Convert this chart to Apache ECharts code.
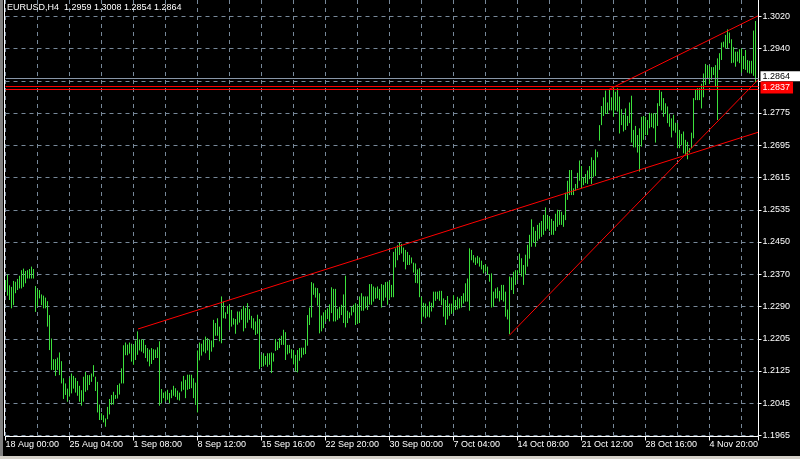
<!DOCTYPE html>
<html><head><meta charset="utf-8">
<script src="https://cdn.jsdelivr.net/npm/echarts@6/dist/echarts.min.js"></script>
<style>
html,body{margin:0;padding:0;background:#d4d0c8;overflow:hidden;}
#wrap{position:absolute;left:0;top:0;width:800px;height:459px;overflow:hidden;background:#000;}
#chart{position:absolute;left:0;top:-16px;width:800px;height:475px;}
#bstrip{position:absolute;left:0;top:456px;width:800px;height:3px;background:#d4d0c8;}
#lstrip{position:absolute;left:0;top:0;width:3px;height:456px;background:#808080;}
</style></head><body>
<div id="wrap"><div id="chart"></div></div><div id="lstrip"></div><div id="bstrip"></div>
<script>
const titleText = 'EURUSD,H4  1.2959 1.3008 1.2854 1.2864';
const timeLabels = ['18 Aug 00:00','25 Aug 04:00','1 Sep 08:00','8 Sep 12:00','15 Sep 16:00','22 Sep 20:00','30 Sep 00:00','7 Oct 04:00','14 Oct 08:00','21 Oct 12:00','28 Oct 16:00','4 Nov 20:00'];
const priceLabels = ['1.1965','1.2045','1.2125','1.2205','1.2290','1.2370','1.2450','1.2535','1.2615','1.2695','1.2775','','1.2940','1.3020'];
const yMin = 1.1965;
const yStep = 0.1055 / 13;

const highs = [
1.2356,1.2370,1.2343,1.2339,1.2354,1.2352,1.2359,1.2367,1.2381,1.2385,
1.2379,1.2381,1.2384,1.2390,1.2384,1.2341,1.2333,1.2331,1.2320,1.2317,
1.2312,1.2303,1.2268,1.2209,1.2157,1.2157,1.2161,1.2174,1.2152,1.2109,
1.2096,1.2083,1.2110,1.2121,1.2115,1.2110,1.2102,1.2090,1.2079,1.2113,
1.2125,1.2117,1.2117,1.2121,1.2142,1.2113,1.2100,1.2043,1.2021,1.2016,
1.2008,1.2037,1.2057,1.2067,1.2075,1.2067,1.2092,1.2096,1.2134,1.2192,
1.2199,1.2194,1.2199,1.2196,1.2193,1.2204,1.2227,1.2207,1.2207,1.2206,
1.2193,1.2185,1.2181,1.2185,1.2182,1.2181,1.2187,1.2202,1.2082,1.2073,
1.2076,1.2080,1.2072,1.2080,1.2090,1.2084,1.2078,1.2073,1.2101,1.2115,
1.2105,1.2118,1.2118,1.2118,1.2109,1.2098,1.2179,1.2199,1.2196,1.2206,
1.2214,1.2210,1.2206,1.2204,1.2256,1.2248,1.2260,1.2239,1.2315,1.2302,
1.2275,1.2291,1.2294,1.2281,1.2260,1.2258,1.2277,1.2277,1.2283,1.2291,
1.2286,1.2298,1.2283,1.2266,1.2260,1.2252,1.2269,1.2258,1.2168,1.2172,
1.2165,1.2172,1.2172,1.2174,1.2172,1.2208,1.2201,1.2210,1.2216,1.2231,
1.2225,1.2193,1.2193,1.2182,1.2180,1.2168,1.2180,1.2185,1.2186,1.2186,
1.2206,1.2268,1.2287,1.2351,1.2348,1.2337,1.2336,1.2323,1.2267,1.2275,
1.2281,1.2285,1.2295,1.2338,1.2334,1.2334,1.2284,1.2289,1.2294,1.2320,
1.2367,1.2279,1.2275,1.2289,1.2294,1.2298,1.2294,1.2315,1.2323,1.2315,
1.2315,1.2315,1.2346,1.2346,1.2340,1.2337,1.2340,1.2334,1.2346,1.2344,
1.2351,1.2352,1.2354,1.2344,1.2427,1.2436,1.2444,1.2450,1.2447,1.2438,
1.2432,1.2427,1.2419,1.2413,1.2400,1.2398,1.2383,1.2386,1.2314,1.2299,
1.2297,1.2291,1.2302,1.2299,1.2327,1.2327,1.2327,1.2329,1.2329,1.2310,
1.2306,1.2316,1.2297,1.2297,1.2318,1.2306,1.2314,1.2310,1.2316,1.2323,
1.2348,1.2360,1.2436,1.2432,1.2419,1.2413,1.2417,1.2413,1.2405,1.2394,
1.2396,1.2390,1.2371,1.2373,1.2327,1.2335,1.2338,1.2329,1.2344,1.2344,
1.2327,1.2282,1.2365,1.2363,1.2377,1.2381,1.2381,1.2423,1.2411,1.2394,
1.2420,1.2445,1.2470,1.2509,1.2490,1.2480,1.2495,1.2500,1.2505,1.2520,
1.2539,1.2520,1.2515,1.2510,1.2505,1.2523,1.2533,1.2531,1.2528,1.2520,
1.2576,1.2606,1.2633,1.2633,1.2587,1.2598,1.2626,1.2657,1.2643,1.2615,
1.2623,1.2632,1.2643,1.2665,1.2658,1.2685,1.2679,1.2746,1.2794,1.2816,
1.2833,1.2803,1.2835,1.2816,1.2841,1.2830,1.2839,1.2818,1.2786,1.2772,
1.2788,1.2769,1.2803,1.2820,1.2734,1.2744,1.2721,1.2738,1.2767,1.2769,
1.2767,1.2759,1.2777,1.2776,1.2776,1.2776,1.2801,1.2835,1.2830,1.2814,
1.2801,1.2793,1.2774,1.2763,1.2772,1.2752,1.2751,1.2734,1.2724,1.2730,
1.2709,1.2704,1.2688,1.2727,1.2814,1.2836,1.2839,1.2839,1.2850,1.2876,
1.2900,1.2897,1.2895,1.2892,1.2892,1.2897,1.2914,1.2927,1.2954,1.2956,
1.2973,1.2987,1.2979,1.2962,1.2942,1.2931,1.2931,1.2937,1.2939,1.2920,
1.2935,1.2910,1.2908,1.2908,1.2984,1.3008];

const lows = [
1.2331,1.2317,1.2306,1.2285,1.2293,1.2323,1.2331,1.2335,1.2335,1.2339,
1.2348,1.2360,1.2360,1.2360,1.2360,1.2276,1.2289,1.2310,1.2293,1.2285,
1.2285,1.2239,1.2180,1.2130,1.2130,1.2115,1.2130,1.2117,1.2096,1.2057,
1.2067,1.2050,1.2063,1.2071,1.2083,1.2073,1.2065,1.2050,1.2040,1.2050,
1.2075,1.2079,1.2092,1.2100,1.2113,1.2077,1.2023,1.2004,1.2004,1.1998,
1.1987,1.2006,1.2018,1.2042,1.2043,1.2057,1.2058,1.2068,1.2096,1.2096,
1.2167,1.2167,1.2171,1.2151,1.2143,1.2155,1.2168,1.2179,1.2176,1.2172,
1.2160,1.2151,1.2139,1.2145,1.2155,1.2160,1.2160,1.2040,1.2046,1.2059,
1.2051,1.2055,1.2046,1.2059,1.2065,1.2062,1.2055,1.2053,1.2076,1.2080,
1.2059,1.2080,1.2082,1.2084,1.2059,1.2042,1.2023,1.2154,1.2166,1.2176,
1.2172,1.2179,1.2155,1.2176,1.2187,1.2216,1.2216,1.2202,1.2197,1.2260,
1.2259,1.2271,1.2231,1.2239,1.2244,1.2221,1.2244,1.2249,1.2256,1.2227,
1.2235,1.2249,1.2256,1.2235,1.2231,1.2218,1.2221,1.2132,1.2137,1.2139,
1.2143,1.2138,1.2143,1.2122,1.2151,1.2178,1.2180,1.2185,1.2193,1.2193,
1.2155,1.2169,1.2172,1.2159,1.2144,1.2126,1.2124,1.2153,1.2161,1.2168,
1.2170,1.2191,1.2243,1.2262,1.2319,1.2312,1.2292,1.2222,1.2227,1.2235,
1.2252,1.2258,1.2252,1.2273,1.2252,1.2252,1.2256,1.2260,1.2268,1.2248,
1.2237,1.2248,1.2260,1.2267,1.2275,1.2243,1.2246,1.2248,1.2279,1.2279,
1.2285,1.2281,1.2294,1.2294,1.2302,1.2309,1.2310,1.2306,1.2287,1.2304,
1.2312,1.2294,1.2309,1.2313,1.2313,1.2388,1.2406,1.2419,1.2423,1.2402,
1.2383,1.2394,1.2394,1.2398,1.2375,1.2349,1.2348,1.2313,1.2251,1.2264,
1.2260,1.2264,1.2262,1.2277,1.2287,1.2304,1.2308,1.2304,1.2293,1.2264,
1.2243,1.2257,1.2266,1.2271,1.2274,1.2281,1.2282,1.2285,1.2287,1.2297,
1.2302,1.2302,1.2279,1.2406,1.2400,1.2394,1.2398,1.2390,1.2383,1.2373,
1.2377,1.2369,1.2352,1.2287,1.2289,1.2310,1.2310,1.2302,1.2306,1.2302,
1.2264,1.2257,1.2220,1.2331,1.2321,1.2344,1.2356,1.2373,1.2365,1.2344,
1.2370,1.2390,1.2410,1.2440,1.2450,1.2440,1.2455,1.2460,1.2465,1.2470,
1.2480,1.2485,1.2480,1.2470,1.2470,1.2480,1.2490,1.2495,1.2495,1.2490,
1.2507,1.2558,1.2570,1.2570,1.2570,1.2581,1.2587,1.2606,1.2587,1.2595,
1.2600,1.2598,1.2610,1.2598,1.2616,1.2618,1.2665,1.2707,1.2746,1.2769,
1.2774,1.2774,1.2783,1.2783,1.2767,1.2783,1.2780,1.2725,1.2746,1.2730,
1.2734,1.2744,1.2751,1.2702,1.2690,1.2690,1.2677,1.2629,1.2692,1.2709,
1.2721,1.2721,1.2738,1.2741,1.2738,1.2702,1.2744,1.2794,1.2783,1.2767,
1.2774,1.2751,1.2742,1.2715,1.2732,1.2727,1.2688,1.2688,1.2696,1.2675,
1.2671,1.2660,1.2677,1.2688,1.2713,1.2809,1.2809,1.2809,1.2788,1.2816,
1.2847,1.2864,1.2850,1.2860,1.2872,1.2843,1.2759,1.2885,1.2910,1.2942,
1.2939,1.2939,1.2952,1.2902,1.2903,1.2893,1.2906,1.2902,1.2878,1.2887,
1.2885,1.2878,1.2876,1.2876,1.2870,1.2854];

const trendA = [[66.25, 1.2233], [376.25, 1.2728]];
const trendB = [[301.4, 1.2835], [376.25, 1.3021]];
const trendC = [[251.9, 1.2217], [376.25, 1.2860]];
const bidPrice = 1.2864;
const hLines = [1.2843, 1.2837];

const FONT = "'Liberation Sans',Arial,sans-serif";
const FS = 9;
const GRID = '#778899';
const BAR = '#3ce03c';
const xMax = 376.5;
const yMax = yMin + 14 * yStep;

const chart = echarts.init(document.getElementById('chart'), null, {renderer: 'canvas'});
const barData = highs.map((h, i) => [i, h, lows[i]]);

chart.setOption({
  backgroundColor: '#000',
  animation: false,
  title: {text: titleText, left: 7, top: 19, padding: 0,
          textStyle: {color: '#fff', fontSize: FS, fontWeight: 'normal', fontFamily: FONT}},
  grid: {left: 5.5, right: 41.5, top: 0, bottom: 23.5, show: false},
  xAxis: [
    {type: 'value', min: 0, max: xMax, interval: 16, position: 'bottom',
     axisLine: {show: false, onZero: false}, axisTick: {show: false}, axisLabel: {show: false},
     splitLine: {show: true, lineStyle: {color: GRID, width: 1, type: [4, 4]}}},
    {type: 'value', min: 0, max: xMax, interval: 32, position: 'bottom', offset: 1,
     axisLine: {show: true, onZero: false, lineStyle: {color: '#fff', width: 1}},
     axisTick: {show: true, length: 4, lineStyle: {color: '#fff'}},
     axisLabel: {show: true, showMinLabel: true, showMaxLabel: true, hideOverlap: false, color: '#fff', fontSize: FS, fontFamily: FONT,
       align: 'left', margin: 4,
       formatter: v => (v % 32 === 0 && timeLabels[v / 32]) ? timeLabels[v / 32] : ''},
     splitLine: {show: false}}
  ],
  yAxis: [
    {type: 'value', min: yMin, max: yMax, interval: yStep, position: 'right',
     axisLine: {show: true, onZero: false, lineStyle: {color: '#fff', width: 1}},
     axisTick: {show: true, length: 3, lineStyle: {color: '#fff'}},
     axisLabel: {show: true, showMinLabel: true, color: '#fff', fontSize: FS, fontFamily: FONT, margin: 4,
       formatter: v => priceLabels[Math.round((v - yMin) / yStep)] || ''},
     splitLine: {show: true, lineStyle: {color: GRID, width: 1, type: [4, 4]}}},
    {type: 'value', min: yMin, max: yMax, position: 'left', offset: 1,
     axisLine: {show: true, onZero: false, lineStyle: {color: '#fff', width: 1}},
     axisTick: {show: false}, axisLabel: {show: false}, splitLine: {show: false}}
  ],
  series: [
    {type: 'custom', xAxisIndex: 0, yAxisIndex: 0, data: barData, silent: true,
     encode: {x: 0, y: [1, 2]},
     renderItem: function (params, api) {
       const p1 = api.coord([api.value(0), api.value(1)]);
       const p2 = api.coord([api.value(0), api.value(2)]);
       return {type: 'line', shape: {x1: p1[0], y1: p1[1], x2: p2[0], y2: p2[1]},
               style: {stroke: BAR, lineWidth: 1}};
     }},
    {type: 'line', xAxisIndex: 0, yAxisIndex: 0, data: trendA, showSymbol: false, silent: true, z: 5,
     lineStyle: {color: '#ff0000', width: 1},
     markLine: {symbol: ['none', 'none'], silent: true, animation: false, precision: 5,
       data: [
         {yAxis: bidPrice, lineStyle: {color: '#8896a8', width: 1, type: 'solid'},
          label: {show: true, position: 'end', distance: 2, formatter: '1.2864', color: '#000', backgroundColor: '#fff',
                  fontSize: FS, fontFamily: FONT, lineHeight: 10, padding: [0, 10, 0, 2], offset: [0, -2]}},
         {yAxis: hLines[0], lineStyle: {color: '#ff0000', width: 1, type: 'solid'}, label: {show: false}},
         {yAxis: hLines[1], lineStyle: {color: '#ff0000', width: 1, type: 'solid'},
          label: {show: true, position: 'end', distance: 2, formatter: '1.2837', color: '#fff', backgroundColor: '#ff0000',
                  fontSize: FS, fontFamily: FONT, lineHeight: 10, padding: [1, 3, 1, 2], offset: [0, -1.5]}}
       ]}},
    {type: 'line', xAxisIndex: 0, yAxisIndex: 0, data: trendB, showSymbol: false, silent: true, z: 5,
     lineStyle: {color: '#ff0000', width: 1}},
    {type: 'line', xAxisIndex: 0, yAxisIndex: 0, data: trendC, showSymbol: false, silent: true, z: 5,
     lineStyle: {color: '#ff0000', width: 1}}
  ]
});
</script>
</body></html>
